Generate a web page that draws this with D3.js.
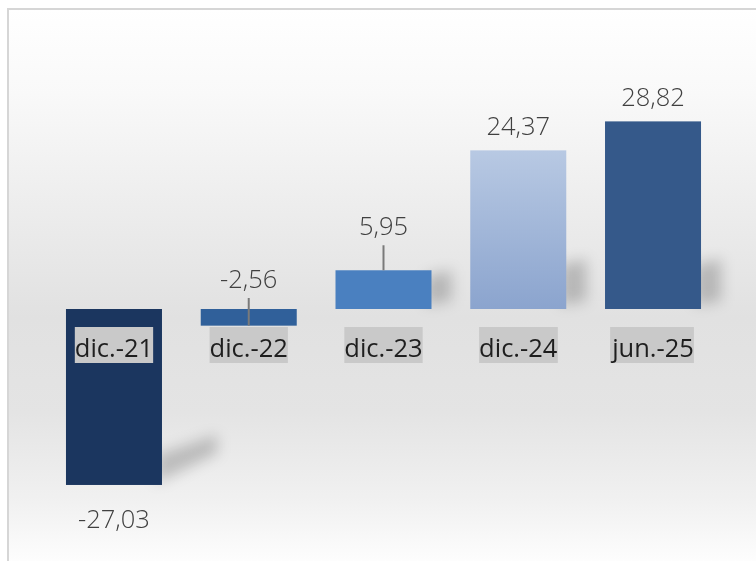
<!DOCTYPE html>
<html>
<head>
<meta charset="utf-8">
<script src="https://cdn.jsdelivr.net/npm/d3@7"></script>
<style>
  html, body { margin: 0; padding: 0; background: #ffffff; }
  svg { display: block; }
</style>
</head>
<body>
<svg id="chart" width="756" height="561"></svg>
<script>
// ---- data ----
const categories = ["dic.-21", "dic.-22", "dic.-23", "dic.-24", "jun.-25"];
const values = [-27.03, -2.56, 5.95, 24.37, 28.82];
const valueLabels = ["-27,03", "-2,56", "5,95", "24,37", "28,82"];
const barColors = ["#1b365f", "#30609a", "#4a80c0", "gradLight", "#35598a"];

const W = 756, H = 561;
const svg = d3.select("#chart");
const defs = svg.append("defs");

// background gradient
const bg = defs.append("linearGradient").attr("id", "bgGrad")
  .attr("x1", 0).attr("y1", 0).attr("x2", 0).attr("y2", 1);
[[0, "#ffffff"], [0.15, "#f9f9f9"], [0.55, "#e1e1e1"], [0.72, "#e4e4e4"], [0.88, "#f1f1f1"], [1, "#ffffff"]]
  .forEach(([o, c]) => bg.append("stop").attr("offset", o).attr("stop-color", c));

const lg = defs.append("linearGradient").attr("id", "gradLight")
  .attr("x1", 0).attr("y1", 0).attr("x2", 0).attr("y2", 1);
lg.append("stop").attr("offset", 0).attr("stop-color", "#b8c9e3");
lg.append("stop").attr("offset", 1).attr("stop-color", "#8ba4ce");

defs.append("filter").attr("id", "blur").attr("x", "-50%").attr("y", "-50%").attr("width", "200%").attr("height", "200%")
  .append("feGaussianBlur").attr("stdDeviation", 7);

svg.append("rect").attr("x", 8).attr("y", 9).attr("width", W).attr("height", H)
  .attr("fill", "url(#bgGrad)").attr("stroke", "#d6d6d6").attr("stroke-width", 2);

// scales
const x = d3.scaleBand().domain(categories).range([46.6, 720.4])
  .paddingInner(0.2876).paddingOuter(0.1438);
const y = d3.scaleLinear().domain([-30, 35]).range([504.3, 81.15]);
const y0 = y(0);

const data = categories.map((c, i) => ({ c, v: values[i], label: valueLabels[i], color: barColors[i] }));

// shadows
const shadowG = svg.append("g").attr("filter", "url(#blur)");
data.forEach(d => {
  const x1 = x(d.c) + x.bandwidth();
  if (d.v > 0) {
    const base = y0;
    const h = Math.min(y0 - y(d.v), 50);
    shadowG.append("polygon")
      .attr("points", [[x1 - 6, base - 4], [x1 - 6, base - h + 6], [x1 + 20, base - h], [x1 + 20, base - 8]].join(" "))
      .attr("fill", "#000").attr("opacity", 0.2);
  } else if (y(d.v) - y0 > 60) {
    const base = y(d.v);
    shadowG.append("polygon")
      .attr("points", [[x1 - 6, base - 2], [x1 - 6, base - 30], [x1 + 55, base - 50], [x1 + 55, base - 32]].join(" "))
      .attr("fill", "#000").attr("opacity", 0.2);
  }
});

// bars
svg.append("g").selectAll("rect").data(data).join("rect")
  .attr("x", d => x(d.c))
  .attr("y", d => Math.min(y(d.v), y0))
  .attr("width", x.bandwidth())
  .attr("height", d => Math.abs(y(d.v) - y0))
  .attr("fill", d => d.color.startsWith("#") ? d.color : `url(#${d.color})`);

// category labels with gray boxes
const catG = svg.append("g");
data.forEach(d => {
  const cx = x(d.c) + x.bandwidth() / 2;
  const t = catG.append("text")
    .attr("x", cx).attr("y", 357)
    .attr("text-anchor", "middle")
    .attr("font-family", "'Open Sans', 'Noto Sans', sans-serif")
    .attr("font-size", 25.5)
    .attr("fill", "#1e1e1e")
    .text(d.c);
  const bb = t.node().getBBox();
  catG.insert("rect", "text")
    .attr("x", bb.x).attr("y", 327)
    .attr("width", bb.width).attr("height", 36)
    .attr("fill", "#c9c9c9");
});

// value labels
const valG = svg.append("g");
data.forEach(d => {
  const cx = x(d.c) + x.bandwidth() / 2;
  const barH = Math.abs(y(d.v) - y0);
  let baseline, leader = null;
  if (d.v >= 0 && barH >= 60) {
    baseline = y(d.v) - 15;
  } else if (d.v < 0 && barH >= 60) {
    baseline = y(d.v) + 43;
  } else if (d.v >= 0) {
    baseline = y(d.v) - 35;
    leader = [baseline + 10, y(d.v)];
  } else {
    baseline = y0 - 21;
    leader = [baseline + 10, y(d.v)];
  }
  if (leader) {
    valG.append("line").attr("x1", cx).attr("x2", cx)
      .attr("y1", leader[0]).attr("y2", leader[1])
      .attr("stroke", "#7a7a7a").attr("stroke-width", 2);
  }
  valG.append("text")
    .attr("x", cx).attr("y", baseline)
    .attr("text-anchor", "middle")
    .attr("font-family", "'Open Sans', 'Noto Sans', sans-serif")
    .attr("font-weight", 300)
    .attr("font-size", 25.5)
    .attr("fill", "#404040")
    .text(d.label);
});
</script>
</body>
</html>
